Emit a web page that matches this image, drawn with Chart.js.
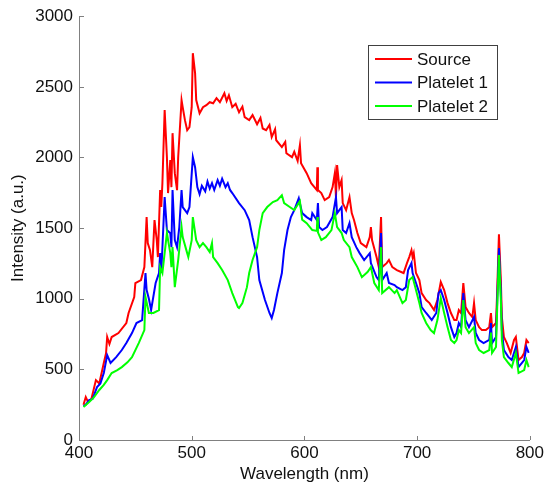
<!DOCTYPE html>
<html>
<head>
<meta charset="utf-8">
<script src="https://cdn.jsdelivr.net/npm/chart.js@4.4.0/dist/chart.umd.min.js"></script>
<style>
  html, body { margin: 0; padding: 0; background: #fff; }
  #wrap { width: 547px; height: 486px; }
</style>
</head>
<body>
<div id="wrap"><canvas id="chart"></canvas></div>
<script>
// wavelengths (nm) and intensities (a.u.)
const sourceNm = [404,406,408,411,415,418,422,424,425,427,429,435,442,444,449,450,455,458,460,461,463,465,467,469,470,472,473,474,476,478,479,481,482,483,485,487,488,491,492,494,496,498,500,501,503,504,507,510,513,516,519,522,525,529,531,533,536,539,542,545,547,551,554,558,561,563,566,569,571,574,575,580,583,584,589,591,594,596,597,602,606,611,611.5,612,615,618,622,625,627,628,629,631,633,634,637,640,642,644,647,650,655,658,659,660,664,666,668,669,673,675,678,682,688,691,693,695,696,697,699,702,704,708,711,715,718,721,724,727,730,733,735,737,739,741,743,746,749,750.5,752,755,757.5,761,764,765.5,766.5,770,771,772.6,774.3,775.2,777,779.6,783,786,787.6,790,793,795,797,799];
const sourceVal = [250,304,270,290,424,400,545,615,729,680,729,757,828,899,1012,1111,1132,1224,1578,1394,1344,1224,1557,1415,1295,1769,1649,1818,2335,2002,1748,1981,1790,2172,1889,1769,2002,2406,2356,2264,2193,2214,2356,2738,2597,2406,2313,2356,2370,2391,2384,2420,2391,2455,2400,2440,2356,2380,2320,2360,2285,2264,2300,2235,2280,2205,2193,2230,2144,2200,2122,2073,2110,2030,2002,2040,1975,2087,1960,1889,1818,1769,1931,1769,1748,1698,1719,1790,1889,1719,1946,1790,1840,1677,1627,1719,1606,1557,1465,1394,1365,1436,1507,1415,1295,1224,1578,1224,1252,1274,1224,1203,1182,1252,1295,1344,1295,1323,1182,1132,1040,991,969,920,991,1118,1061,969,899,849,849,920,899,1111,941,899,870,969,849,799,778,778,799,899,799,828,1040,1457,1132,870,729,686,616,708,729,566,587,616,708,686];

const plate1Nm = [404,406,409,412,416,419,422,425,428,433,438,442,447,451,456,459,460,462,464,468,471,472,473,476,478,481,482,483,485,487,489,491,492,496,498,501,503,505,507,509,512,514,516,518,520,523,525,527,530,532,534,536,542,547,551,554,558,560,565,569,571,573,576,580,582,585,588,591,595,598,602,606,607,611,612,613,616,620,625,628,629,633,634,637,640,642,646,649,653,658,659,664,666,668,669,673,675,680,682,687,690,692,695,696,699,702,704,708,711,713,717,719,721,724,727,730,733,735,737,739,741,743,746,750.5,752,755,759,764,765.5,766.5,770,771,772.6,774.3,775.2,777,781,784,787.6,790,795,797,799];
const plate1Val = [240,250,283,290,375,400,474,601,545,587,637,686,757,828,849,1182,1061,1000,920,1111,1182,1323,1182,1719,1486,1464,1365,1769,1415,1365,1507,1769,1649,1606,1649,2002,1931,1790,1740,1800,1760,1830,1780,1818,1770,1840,1800,1850,1790,1818,1770,1748,1677,1627,1557,1436,1295,1132,991,899,863,920,1040,1182,1344,1486,1578,1627,1712,1606,1578,1557,1606,1557,1677,1507,1486,1507,1578,1719,1606,1649,1486,1465,1535,1436,1365,1323,1274,1323,1252,1153,1132,1465,1132,1182,1111,1097,1082,1061,1082,1203,1252,1182,1111,1040,941,899,870,849,899,1040,1061,991,899,799,729,757,828,799,1040,849,799,870,757,708,686,708,828,686,729,969,1358,1040,778,637,587,566,658,516,566,658,616];

const plate2Nm = [404,409,413,418,422,425,429,434,438,443,447,453,458,459,462,466,471,472,474,478,481,482,483,485,488,491,492,496,497,500,501,504,507,510,513,516,518,519,523,527,532,536,541,542,545,549,551,554,558,560,563,567,572,576,580,582,587,591,596,598,602,607,611,611.5,612,615,619,624,627,629,633,635,640,642,647,651,656,659,662,666,668,669,675,680,682,687,690,693,696,699,702,704,708,712,715,718,721,724,727,730,733,735,737,739,741,743,746,750.5,752,755,759,764,765.5,766.5,770,771,772.6,774.3,775.2,777,781,784,787.6,790,795,797,799];
const plate2Val = [233,269,300,354,390,424,474,495,516,550,587,686,778,1012,899,899,920,1224,1182,1465,1323,1224,1365,1082,1274,1507,1436,1323,1295,1415,1578,1415,1365,1394,1365,1330,1394,1295,1252,1203,1132,1040,941,934,969,1082,1182,1274,1365,1486,1606,1649,1684,1698,1733,1677,1649,1627,1690,1560,1535,1486,1480,1578,1470,1415,1436,1486,1606,1507,1465,1415,1365,1295,1224,1153,1189,1224,1111,1061,1365,1040,1082,1040,1061,969,991,1132,1153,1061,969,899,828,778,757,849,1005,899,799,708,686,708,778,757,991,799,757,799,686,637,616,637,760,616,658,920,1309,991,708,587,545,516,616,474,495,566,516];

const seriesNames = ['Source', 'Platelet 1', 'Platelet 2'];
const seriesColors = ['#ff0000', '#0000ff', '#00ff00'];
const xTicks = [400, 500, 600, 700, 800];
const yTicks = [0, 500, 1000, 1500, 2000, 2500, 3000];

function toPoints(nm, val) {
    return nm.map((x, i) => ({ x: x, y: val[i] }));
}

const axisFont = { family: "'Liberation Sans', Arial, sans-serif", size: 17 };

// inward tick marks, like the original plot
const innerTicks = {
    id: 'innerTicks',
    afterDraw(chart) {
        const ctx = chart.ctx;
        const xs = chart.scales.x, ys = chart.scales.y;
        const area = chart.chartArea;
        ctx.save();
        ctx.strokeStyle = '#808080';
        ctx.lineWidth = 1;
        ctx.beginPath();
        xTicks.forEach(v => {
            const px = Math.round(xs.getPixelForValue(v)) + 0.5;
            ctx.moveTo(px, area.bottom);
            ctx.lineTo(px, area.bottom - 4);
        });
        yTicks.forEach(v => {
            const py = Math.round(ys.getPixelForValue(v)) + 0.5;
            ctx.moveTo(area.left, py);
            ctx.lineTo(area.left + 5, py);
        });
        ctx.stroke();
        ctx.restore();
    }
};

// boxed legend in the upper right
const boxLegend = {
    id: 'boxLegend',
    afterDraw(chart) {
        const ctx = chart.ctx;
        const left = 368, top = 45, w = 129, h = 74;
        ctx.save();
        ctx.fillStyle = '#fff';
        ctx.fillRect(left, top, w, h);
        ctx.strokeStyle = '#404040';
        ctx.lineWidth = 1;
        ctx.strokeRect(left + 0.5, top + 0.5, w, h);
        ctx.font = "17px 'Liberation Sans', Arial, sans-serif";
        ctx.textBaseline = 'middle';
        chart.data.datasets.forEach((ds, i) => {
            const y = top + 14 + i * 23.5;
            ctx.strokeStyle = ds.borderColor;
            ctx.lineWidth = 2;
            ctx.beginPath();
            ctx.moveTo(left + 7, y);
            ctx.lineTo(left + 44, y);
            ctx.stroke();
            ctx.fillStyle = '#111';
            ctx.fillText(ds.label, left + 49, y + 1);
        });
        ctx.restore();
    }
};

new Chart(document.getElementById('chart'), {
    type: 'line',
    data: {
        datasets: [
            { label: seriesNames[0], data: toPoints(sourceNm, sourceVal), borderColor: seriesColors[0], order: 3 },
            { label: seriesNames[1], data: toPoints(plate1Nm, plate1Val), borderColor: seriesColors[1], order: 2 },
            { label: seriesNames[2], data: toPoints(plate2Nm, plate2Val), borderColor: seriesColors[2], order: 1 }
        ]
    },
    options: {
        responsive: true,
        maintainAspectRatio: false,
        animation: false,
        layout: { padding: { left: 0, right: 16, top: 16, bottom: 0 }, autoPadding: false },
        elements: {
            line: { borderWidth: 2, tension: 0, fill: false },
            point: { radius: 0 }
        },
        plugins: {
            legend: { display: false },
            tooltip: { enabled: false }
        },
        scales: {
            x: {
                type: 'linear',
                min: 400,
                max: 800,
                afterFit: s => { s.height = 46; },
                afterBuildTicks: s => { s.ticks = xTicks.map(v => ({ value: v })); },
                grid: { display: true, drawOnChartArea: false, drawTicks: false },
                border: { display: true, color: '#808080', width: 1 },
                ticks: { color: '#111', font: axisFont, padding: 3, maxRotation: 0, callback: v => String(v) },
                title: { display: true, text: 'Wavelength (nm)', color: '#111', font: axisFont, padding: { top: 0, bottom: 1 } }
            },
            y: {
                min: 0,
                max: 3000,
                afterFit: s => { s.width = 79; },
                afterBuildTicks: s => { s.ticks = yTicks.map(v => ({ value: v })); },
                grid: { display: true, drawOnChartArea: false, drawTicks: false },
                border: { display: true, color: '#808080', width: 1 },
                ticks: { color: '#111', font: axisFont, padding: 6, callback: v => String(v) },
                title: { display: true, text: 'Intensity (a.u.)', color: '#111', font: axisFont, padding: { top: 8, bottom: 0 } }
            }
        }
    },
    plugins: [innerTicks, boxLegend]
});
</script>
</body>
</html>
